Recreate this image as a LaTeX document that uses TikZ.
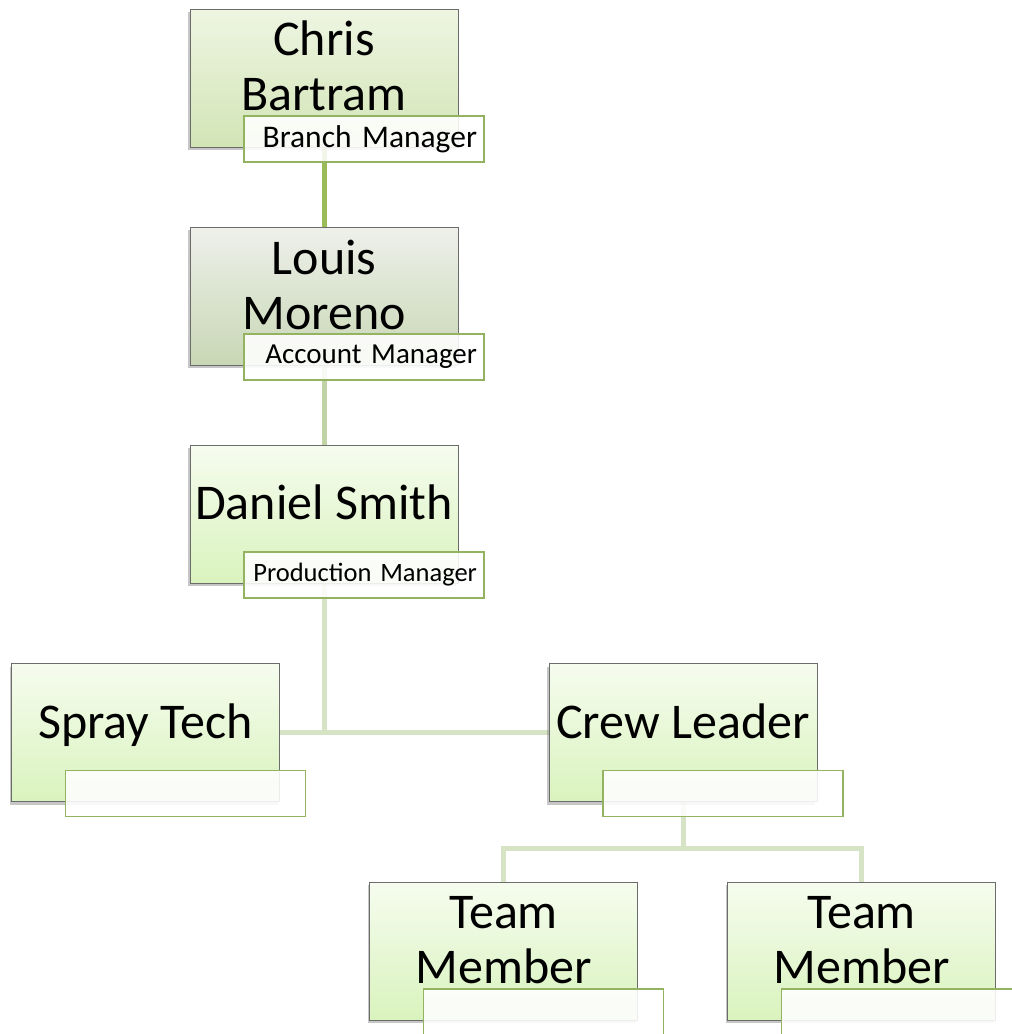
\documentclass[tikz,border=0pt]{standalone}
\usepackage{fontspec}
\setmainfont{Carlito}
\usepackage{tikz}
\usetikzlibrary{shadows,backgrounds}

\definecolor{topA}{HTML}{EEF5E2}
\definecolor{botA}{HTML}{D2E5B6}
\definecolor{topB}{HTML}{EEF0EA}
\definecolor{botB}{HTML}{C8D7B5}
\definecolor{topC}{HTML}{F6FCEF}
\definecolor{botC}{HTML}{D9F3BD}
\definecolor{rim}{HTML}{93B361}
\definecolor{linkA}{HTML}{9BBB59}
\definecolor{linkB}{HTML}{C2D4A6}
\definecolor{linkC}{HTML}{D6E3C4}

\tikzset{
  person/.style 2 args={draw=gray!85!black, line width=0.8pt, minimum width=268pt, minimum height=138pt, inner sep=0pt, top color=#1, bottom color=#2, drop shadow={shadow xshift=-2pt, shadow yshift=-3pt, opacity=0.45}},
  who/.style={anchor=base, align=center, inner sep=0pt, font=\fontsize{50}{55}\selectfont},
  title/.style={draw=rim, line width=1.6pt, fill=white, fill opacity=0.88, text opacity=1, minimum width=240pt, minimum height=46pt, inner xsep=7pt, inner ysep=0pt, text width=226pt, align=right},
  link/.style={line width=5pt, line join=miter}
}

\begin{document}
\begin{tikzpicture}[x=1pt,y=-1pt]
\useasboundingbox (0,0) rectangle (1012,1034);

\node [person={topA}{botA}] (chris) at (324,78) {};
\node [person={topB}{botB}] (louis) at (324,296) {};
\node [person={topC}{botC}] (daniel) at (324,514) {};
\node [person={topC}{botC}] (spray) at (145.5,732.5) {};
\node [person={topC}{botC}] (crew) at (683,732.5) {};
\node [person={topC}{botC}] (teamA) at (503.5,951) {};
\node [person={topC}{botC}] (teamB) at (861.5,951) {};

\node [who] (chrisname) at ([yshift=-32pt]chris.center) {Chris\\Bartram};
\node [who] (louisname) at ([yshift=-33pt]louis.center) {Louis\\Moreno};
\node [who] (danielname) at ([yshift=-5pt]daniel.center) {Daniel Smith};
\node [who] (sprayname) at ([yshift=-6pt]spray.center) {Spray Tech};
\node [who] (crewname) at ([yshift=-6pt]crew.center) {Crew Leader};
\node [who] (teamAname) at ([yshift=-32pt]teamA.center) {Team\\Member};
\node [who] (teamBname) at ([yshift=-32pt]teamB.center) {Team\\Member};

\node [title, font=\fontsize{31.5}{34}\selectfont] (chrisrole) at ([shift={(40,61)}]chris.center) {Branch Manager};
\node [title, font=\fontsize{29}{32}\selectfont] (louisrole) at ([shift={(40,61)}]louis.center) {Account Manager};
\node [title, font=\fontsize{26.5}{30}\selectfont] (danielrole) at ([shift={(40,61)}]daniel.center) {Production Manager};
\node [title] (sprayrole) at ([shift={(40,61)}]spray.center) {};
\node [title] (crewrole) at ([shift={(40,61)}]crew.center) {};
\node [title] (teamArole) at ([shift={(40,61)}]teamA.center) {};
\node [title] (teamBrole) at ([shift={(40,61)}]teamB.center) {};

\coordinate (fork) at (683,848);

\begin{scope}[on background layer]
\draw [link, linkA] (chris.center) -- (louis.center);
\draw [link, linkB] (louis.center) -- (daniel.center);
\draw [link, linkC] (daniel.center) |- (spray.center);
\draw [link, linkC] (daniel.center) |- (crew.center);
\draw [link, linkC] (crew.center) -- (fork);
\draw [link, linkC] (teamA.center) |- (fork) -| (teamB.center);
\end{scope}

\end{tikzpicture}
\end{document}
